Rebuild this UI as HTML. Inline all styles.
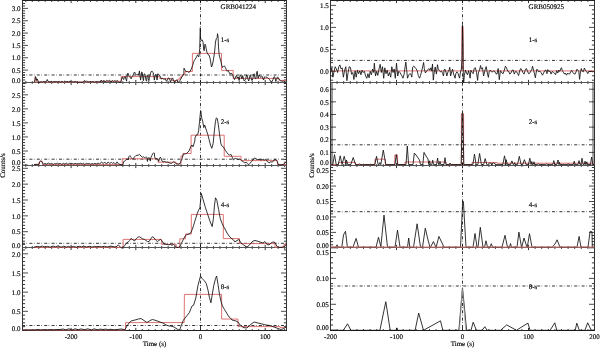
<!DOCTYPE html>
<html><head><meta charset="utf-8"><style>html,body{margin:0;padding:0;background:#fff;overflow:hidden}svg{display:block;will-change:transform;filter:blur(0.25px)}</style></head>
<body><svg width="600" height="348" viewBox="0 0 600 348" font-family="Liberation Serif, serif" fill="#000" text-rendering="geometricPrecision" stroke-width="0">
<rect width="600" height="348" fill="#fff"/>
<line x1="332.0" y1="82.5" x2="332.0" y2="165" stroke="#999" stroke-width="2.0"/>
<line x1="593.0" y1="82.5" x2="593.0" y2="165" stroke="#a0a0a0" stroke-width="1.9"/>
<path d="M22.5 82.44h5.5M286.5 82.44h-5.5M22.5 70.10h5.5M286.5 70.10h-5.5M22.5 57.76h5.5M286.5 57.76h-5.5M22.5 45.42h5.5M286.5 45.42h-5.5M22.5 33.08h5.5M286.5 33.08h-5.5M22.5 20.74h5.5M286.5 20.74h-5.5M22.5 8.40h5.5M286.5 8.40h-5.5M22.5 165.05h5.5M286.5 165.05h-5.5M22.5 151.00h5.5M286.5 151.00h-5.5M22.5 136.95h5.5M286.5 136.95h-5.5M22.5 122.90h5.5M286.5 122.90h-5.5M22.5 108.85h5.5M286.5 108.85h-5.5M22.5 94.80h5.5M286.5 94.80h-5.5M22.5 247.55h5.5M286.5 247.55h-5.5M22.5 231.70h5.5M286.5 231.70h-5.5M22.5 215.85h5.5M286.5 215.85h-5.5M22.5 200.00h5.5M286.5 200.00h-5.5M22.5 184.15h5.5M286.5 184.15h-5.5M22.5 168.30h5.5M286.5 168.30h-5.5M22.5 330.50h5.5M286.5 330.50h-5.5M22.5 311.32h5.5M286.5 311.32h-5.5M22.5 292.15h5.5M286.5 292.15h-5.5M22.5 272.98h5.5M286.5 272.98h-5.5M22.5 253.80h5.5M286.5 253.80h-5.5" stroke="#000" stroke-width="0.7" fill="none"/>
<path d="M22.5 79.97h2.6M286.5 79.97h-2.6M22.5 77.50h2.6M286.5 77.50h-2.6M22.5 75.04h2.6M286.5 75.04h-2.6M22.5 72.57h2.6M286.5 72.57h-2.6M22.5 67.63h2.6M286.5 67.63h-2.6M22.5 65.16h2.6M286.5 65.16h-2.6M22.5 62.70h2.6M286.5 62.70h-2.6M22.5 60.23h2.6M286.5 60.23h-2.6M22.5 55.29h2.6M286.5 55.29h-2.6M22.5 52.82h2.6M286.5 52.82h-2.6M22.5 50.36h2.6M286.5 50.36h-2.6M22.5 47.89h2.6M286.5 47.89h-2.6M22.5 42.95h2.6M286.5 42.95h-2.6M22.5 40.48h2.6M286.5 40.48h-2.6M22.5 38.02h2.6M286.5 38.02h-2.6M22.5 35.55h2.6M286.5 35.55h-2.6M22.5 30.61h2.6M286.5 30.61h-2.6M22.5 28.14h2.6M286.5 28.14h-2.6M22.5 25.68h2.6M286.5 25.68h-2.6M22.5 23.21h2.6M286.5 23.21h-2.6M22.5 18.27h2.6M286.5 18.27h-2.6M22.5 15.80h2.6M286.5 15.80h-2.6M22.5 13.34h2.6M286.5 13.34h-2.6M22.5 10.87h2.6M286.5 10.87h-2.6M22.5 5.93h2.6M286.5 5.93h-2.6M22.5 3.46h2.6M286.5 3.46h-2.6M22.5 162.24h2.6M286.5 162.24h-2.6M22.5 159.43h2.6M286.5 159.43h-2.6M22.5 156.62h2.6M286.5 156.62h-2.6M22.5 153.81h2.6M286.5 153.81h-2.6M22.5 148.19h2.6M286.5 148.19h-2.6M22.5 145.38h2.6M286.5 145.38h-2.6M22.5 142.57h2.6M286.5 142.57h-2.6M22.5 139.76h2.6M286.5 139.76h-2.6M22.5 134.14h2.6M286.5 134.14h-2.6M22.5 131.33h2.6M286.5 131.33h-2.6M22.5 128.52h2.6M286.5 128.52h-2.6M22.5 125.71h2.6M286.5 125.71h-2.6M22.5 120.09h2.6M286.5 120.09h-2.6M22.5 117.28h2.6M286.5 117.28h-2.6M22.5 114.47h2.6M286.5 114.47h-2.6M22.5 111.66h2.6M286.5 111.66h-2.6M22.5 106.04h2.6M286.5 106.04h-2.6M22.5 103.23h2.6M286.5 103.23h-2.6M22.5 100.42h2.6M286.5 100.42h-2.6M22.5 97.61h2.6M286.5 97.61h-2.6M22.5 91.99h2.6M286.5 91.99h-2.6M22.5 89.18h2.6M286.5 89.18h-2.6M22.5 86.37h2.6M286.5 86.37h-2.6M22.5 83.56h2.6M286.5 83.56h-2.6M22.5 244.38h2.6M286.5 244.38h-2.6M22.5 241.21h2.6M286.5 241.21h-2.6M22.5 238.04h2.6M286.5 238.04h-2.6M22.5 234.87h2.6M286.5 234.87h-2.6M22.5 228.53h2.6M286.5 228.53h-2.6M22.5 225.36h2.6M286.5 225.36h-2.6M22.5 222.19h2.6M286.5 222.19h-2.6M22.5 219.02h2.6M286.5 219.02h-2.6M22.5 212.68h2.6M286.5 212.68h-2.6M22.5 209.51h2.6M286.5 209.51h-2.6M22.5 206.34h2.6M286.5 206.34h-2.6M22.5 203.17h2.6M286.5 203.17h-2.6M22.5 196.83h2.6M286.5 196.83h-2.6M22.5 193.66h2.6M286.5 193.66h-2.6M22.5 190.49h2.6M286.5 190.49h-2.6M22.5 187.32h2.6M286.5 187.32h-2.6M22.5 180.98h2.6M286.5 180.98h-2.6M22.5 177.81h2.6M286.5 177.81h-2.6M22.5 174.64h2.6M286.5 174.64h-2.6M22.5 171.47h2.6M286.5 171.47h-2.6M22.5 326.67h2.6M286.5 326.67h-2.6M22.5 322.83h2.6M286.5 322.83h-2.6M22.5 319.00h2.6M286.5 319.00h-2.6M22.5 315.16h2.6M286.5 315.16h-2.6M22.5 307.49h2.6M286.5 307.49h-2.6M22.5 303.65h2.6M286.5 303.65h-2.6M22.5 299.82h2.6M286.5 299.82h-2.6M22.5 295.99h2.6M286.5 295.99h-2.6M22.5 288.31h2.6M286.5 288.31h-2.6M22.5 284.48h2.6M286.5 284.48h-2.6M22.5 280.64h2.6M286.5 280.64h-2.6M22.5 276.81h2.6M286.5 276.81h-2.6M22.5 269.14h2.6M286.5 269.14h-2.6M22.5 265.31h2.6M286.5 265.31h-2.6M22.5 261.47h2.6M286.5 261.47h-2.6M22.5 257.63h2.6M286.5 257.63h-2.6M22.5 249.96h2.6M286.5 249.96h-2.6" stroke="#000" stroke-width="0.8" fill="none"/>
<path d="M25.81 82.5v-1.4M25.81 0.5v1.4M32.28 82.5v-1.4M32.28 0.5v1.4M38.75 82.5v-1.4M38.75 0.5v1.4M45.22 82.5v-1.4M45.22 0.5v1.4M51.69 82.5v-1.4M51.69 0.5v1.4M58.16 82.5v-1.4M58.16 0.5v1.4M64.63 82.5v-1.4M64.63 0.5v1.4M71.10 82.5v-2.6M71.10 0.5v2.6M77.57 82.5v-1.4M77.57 0.5v1.4M84.04 82.5v-1.4M84.04 0.5v1.4M90.51 82.5v-1.4M90.51 0.5v1.4M96.98 82.5v-1.4M96.98 0.5v1.4M103.45 82.5v-1.4M103.45 0.5v1.4M109.92 82.5v-1.4M109.92 0.5v1.4M116.39 82.5v-1.4M116.39 0.5v1.4M122.86 82.5v-1.4M122.86 0.5v1.4M129.33 82.5v-1.4M129.33 0.5v1.4M135.80 82.5v-2.6M135.80 0.5v2.6M142.27 82.5v-1.4M142.27 0.5v1.4M148.74 82.5v-1.4M148.74 0.5v1.4M155.21 82.5v-1.4M155.21 0.5v1.4M161.68 82.5v-1.4M161.68 0.5v1.4M168.15 82.5v-1.4M168.15 0.5v1.4M174.62 82.5v-1.4M174.62 0.5v1.4M181.09 82.5v-1.4M181.09 0.5v1.4M187.56 82.5v-1.4M187.56 0.5v1.4M194.03 82.5v-1.4M194.03 0.5v1.4M200.50 82.5v-2.6M200.50 0.5v2.6M206.97 82.5v-1.4M206.97 0.5v1.4M213.44 82.5v-1.4M213.44 0.5v1.4M219.91 82.5v-1.4M219.91 0.5v1.4M226.38 82.5v-1.4M226.38 0.5v1.4M232.85 82.5v-1.4M232.85 0.5v1.4M239.32 82.5v-1.4M239.32 0.5v1.4M245.79 82.5v-1.4M245.79 0.5v1.4M252.26 82.5v-1.4M252.26 0.5v1.4M258.73 82.5v-1.4M258.73 0.5v1.4M265.20 82.5v-2.6M265.20 0.5v2.6M271.67 82.5v-1.4M271.67 0.5v1.4M278.14 82.5v-1.4M278.14 0.5v1.4M284.61 82.5v-1.4M284.61 0.5v1.4M25.81 165.5v-1.4M25.81 82.5v1.4M32.28 165.5v-1.4M32.28 82.5v1.4M38.75 165.5v-1.4M38.75 82.5v1.4M45.22 165.5v-1.4M45.22 82.5v1.4M51.69 165.5v-1.4M51.69 82.5v1.4M58.16 165.5v-1.4M58.16 82.5v1.4M64.63 165.5v-1.4M64.63 82.5v1.4M71.10 165.5v-2.6M71.10 82.5v2.6M77.57 165.5v-1.4M77.57 82.5v1.4M84.04 165.5v-1.4M84.04 82.5v1.4M90.51 165.5v-1.4M90.51 82.5v1.4M96.98 165.5v-1.4M96.98 82.5v1.4M103.45 165.5v-1.4M103.45 82.5v1.4M109.92 165.5v-1.4M109.92 82.5v1.4M116.39 165.5v-1.4M116.39 82.5v1.4M122.86 165.5v-1.4M122.86 82.5v1.4M129.33 165.5v-1.4M129.33 82.5v1.4M135.80 165.5v-2.6M135.80 82.5v2.6M142.27 165.5v-1.4M142.27 82.5v1.4M148.74 165.5v-1.4M148.74 82.5v1.4M155.21 165.5v-1.4M155.21 82.5v1.4M161.68 165.5v-1.4M161.68 82.5v1.4M168.15 165.5v-1.4M168.15 82.5v1.4M174.62 165.5v-1.4M174.62 82.5v1.4M181.09 165.5v-1.4M181.09 82.5v1.4M187.56 165.5v-1.4M187.56 82.5v1.4M194.03 165.5v-1.4M194.03 82.5v1.4M200.50 165.5v-2.6M200.50 82.5v2.6M206.97 165.5v-1.4M206.97 82.5v1.4M213.44 165.5v-1.4M213.44 82.5v1.4M219.91 165.5v-1.4M219.91 82.5v1.4M226.38 165.5v-1.4M226.38 82.5v1.4M232.85 165.5v-1.4M232.85 82.5v1.4M239.32 165.5v-1.4M239.32 82.5v1.4M245.79 165.5v-1.4M245.79 82.5v1.4M252.26 165.5v-1.4M252.26 82.5v1.4M258.73 165.5v-1.4M258.73 82.5v1.4M265.20 165.5v-2.6M265.20 82.5v2.6M271.67 165.5v-1.4M271.67 82.5v1.4M278.14 165.5v-1.4M278.14 82.5v1.4M284.61 165.5v-1.4M284.61 82.5v1.4M25.81 247.5v-1.4M25.81 165.5v1.4M32.28 247.5v-1.4M32.28 165.5v1.4M38.75 247.5v-1.4M38.75 165.5v1.4M45.22 247.5v-1.4M45.22 165.5v1.4M51.69 247.5v-1.4M51.69 165.5v1.4M58.16 247.5v-1.4M58.16 165.5v1.4M64.63 247.5v-1.4M64.63 165.5v1.4M71.10 247.5v-2.6M71.10 165.5v2.6M77.57 247.5v-1.4M77.57 165.5v1.4M84.04 247.5v-1.4M84.04 165.5v1.4M90.51 247.5v-1.4M90.51 165.5v1.4M96.98 247.5v-1.4M96.98 165.5v1.4M103.45 247.5v-1.4M103.45 165.5v1.4M109.92 247.5v-1.4M109.92 165.5v1.4M116.39 247.5v-1.4M116.39 165.5v1.4M122.86 247.5v-1.4M122.86 165.5v1.4M129.33 247.5v-1.4M129.33 165.5v1.4M135.80 247.5v-2.6M135.80 165.5v2.6M142.27 247.5v-1.4M142.27 165.5v1.4M148.74 247.5v-1.4M148.74 165.5v1.4M155.21 247.5v-1.4M155.21 165.5v1.4M161.68 247.5v-1.4M161.68 165.5v1.4M168.15 247.5v-1.4M168.15 165.5v1.4M174.62 247.5v-1.4M174.62 165.5v1.4M181.09 247.5v-1.4M181.09 165.5v1.4M187.56 247.5v-1.4M187.56 165.5v1.4M194.03 247.5v-1.4M194.03 165.5v1.4M200.50 247.5v-2.6M200.50 165.5v2.6M206.97 247.5v-1.4M206.97 165.5v1.4M213.44 247.5v-1.4M213.44 165.5v1.4M219.91 247.5v-1.4M219.91 165.5v1.4M226.38 247.5v-1.4M226.38 165.5v1.4M232.85 247.5v-1.4M232.85 165.5v1.4M239.32 247.5v-1.4M239.32 165.5v1.4M245.79 247.5v-1.4M245.79 165.5v1.4M252.26 247.5v-1.4M252.26 165.5v1.4M258.73 247.5v-1.4M258.73 165.5v1.4M265.20 247.5v-2.6M265.20 165.5v2.6M271.67 247.5v-1.4M271.67 165.5v1.4M278.14 247.5v-1.4M278.14 165.5v1.4M284.61 247.5v-1.4M284.61 165.5v1.4M25.81 330.5v-1.4M25.81 247.5v1.4M32.28 330.5v-1.4M32.28 247.5v1.4M38.75 330.5v-1.4M38.75 247.5v1.4M45.22 330.5v-1.4M45.22 247.5v1.4M51.69 330.5v-1.4M51.69 247.5v1.4M58.16 330.5v-1.4M58.16 247.5v1.4M64.63 330.5v-1.4M64.63 247.5v1.4M71.10 330.5v-2.6M71.10 247.5v2.6M77.57 330.5v-1.4M77.57 247.5v1.4M84.04 330.5v-1.4M84.04 247.5v1.4M90.51 330.5v-1.4M90.51 247.5v1.4M96.98 330.5v-1.4M96.98 247.5v1.4M103.45 330.5v-1.4M103.45 247.5v1.4M109.92 330.5v-1.4M109.92 247.5v1.4M116.39 330.5v-1.4M116.39 247.5v1.4M122.86 330.5v-1.4M122.86 247.5v1.4M129.33 330.5v-1.4M129.33 247.5v1.4M135.80 330.5v-2.6M135.80 247.5v2.6M142.27 330.5v-1.4M142.27 247.5v1.4M148.74 330.5v-1.4M148.74 247.5v1.4M155.21 330.5v-1.4M155.21 247.5v1.4M161.68 330.5v-1.4M161.68 247.5v1.4M168.15 330.5v-1.4M168.15 247.5v1.4M174.62 330.5v-1.4M174.62 247.5v1.4M181.09 330.5v-1.4M181.09 247.5v1.4M187.56 330.5v-1.4M187.56 247.5v1.4M194.03 330.5v-1.4M194.03 247.5v1.4M200.50 330.5v-2.6M200.50 247.5v2.6M206.97 330.5v-1.4M206.97 247.5v1.4M213.44 330.5v-1.4M213.44 247.5v1.4M219.91 330.5v-1.4M219.91 247.5v1.4M226.38 330.5v-1.4M226.38 247.5v1.4M232.85 330.5v-1.4M232.85 247.5v1.4M239.32 330.5v-1.4M239.32 247.5v1.4M245.79 330.5v-1.4M245.79 247.5v1.4M252.26 330.5v-1.4M252.26 247.5v1.4M258.73 330.5v-1.4M258.73 247.5v1.4M265.20 330.5v-2.6M265.20 247.5v2.6M271.67 330.5v-1.4M271.67 247.5v1.4M278.14 330.5v-1.4M278.14 247.5v1.4M284.61 330.5v-1.4M284.61 247.5v1.4" stroke="#000" stroke-width="0.8" fill="none"/>
<line x1="22.50" y1="75.00" x2="286.50" y2="75.00" stroke="#000" stroke-width="0.8" stroke-dasharray="3,1.5,0.6,2.3" stroke-dashoffset="0.5"/>
<text x="20.60" y="82.64" text-anchor="end" font-size="7.0" stroke="#000" stroke-width="0.15" >0.0</text>
<text x="20.60" y="72.80" text-anchor="end" font-size="7.0" stroke="#000" stroke-width="0.15" >0.5</text>
<text x="20.60" y="60.46" text-anchor="end" font-size="7.0" stroke="#000" stroke-width="0.15" >1.0</text>
<text x="20.60" y="48.12" text-anchor="end" font-size="7.0" stroke="#000" stroke-width="0.15" >1.5</text>
<text x="20.60" y="35.78" text-anchor="end" font-size="7.0" stroke="#000" stroke-width="0.15" >2.0</text>
<text x="20.60" y="23.44" text-anchor="end" font-size="7.0" stroke="#000" stroke-width="0.15" >2.5</text>
<text x="20.60" y="11.10" text-anchor="end" font-size="7.0" stroke="#000" stroke-width="0.15" >3.0</text>
<text x="220.70" y="41.90" text-anchor="start" font-size="7.0" stroke="#000" stroke-width="0.15" >1-s</text>
<line x1="22.50" y1="159.20" x2="286.50" y2="159.20" stroke="#000" stroke-width="0.8" stroke-dasharray="3,1.5,0.6,2.3" stroke-dashoffset="0.5"/>
<text x="20.60" y="165.25" text-anchor="end" font-size="7.0" stroke="#000" stroke-width="0.15" >0.0</text>
<text x="20.60" y="153.70" text-anchor="end" font-size="7.0" stroke="#000" stroke-width="0.15" >0.5</text>
<text x="20.60" y="139.65" text-anchor="end" font-size="7.0" stroke="#000" stroke-width="0.15" >1.0</text>
<text x="20.60" y="125.60" text-anchor="end" font-size="7.0" stroke="#000" stroke-width="0.15" >1.5</text>
<text x="20.60" y="111.55" text-anchor="end" font-size="7.0" stroke="#000" stroke-width="0.15" >2.0</text>
<text x="20.60" y="97.50" text-anchor="end" font-size="7.0" stroke="#000" stroke-width="0.15" >2.5</text>
<text x="220.70" y="124.10" text-anchor="start" font-size="7.0" stroke="#000" stroke-width="0.15" >2-s</text>
<line x1="22.50" y1="243.30" x2="286.50" y2="243.30" stroke="#000" stroke-width="0.8" stroke-dasharray="3,1.5,0.6,2.3" stroke-dashoffset="0.5"/>
<text x="20.60" y="247.75" text-anchor="end" font-size="7.0" stroke="#000" stroke-width="0.15" >0.0</text>
<text x="20.60" y="234.40" text-anchor="end" font-size="7.0" stroke="#000" stroke-width="0.15" >0.5</text>
<text x="20.60" y="218.55" text-anchor="end" font-size="7.0" stroke="#000" stroke-width="0.15" >1.0</text>
<text x="20.60" y="202.70" text-anchor="end" font-size="7.0" stroke="#000" stroke-width="0.15" >1.5</text>
<text x="20.60" y="186.85" text-anchor="end" font-size="7.0" stroke="#000" stroke-width="0.15" >2.0</text>
<text x="20.60" y="171.00" text-anchor="end" font-size="7.0" stroke="#000" stroke-width="0.15" >2.5</text>
<text x="220.70" y="207.20" text-anchor="start" font-size="7.0" stroke="#000" stroke-width="0.15" >4-s</text>
<line x1="22.50" y1="325.50" x2="286.50" y2="325.50" stroke="#000" stroke-width="0.8" stroke-dasharray="3,1.5,0.6,2.3" stroke-dashoffset="0.5"/>
<text x="20.60" y="330.70" text-anchor="end" font-size="7.0" stroke="#000" stroke-width="0.15" >0.0</text>
<text x="20.60" y="314.02" text-anchor="end" font-size="7.0" stroke="#000" stroke-width="0.15" >0.5</text>
<text x="20.60" y="294.85" text-anchor="end" font-size="7.0" stroke="#000" stroke-width="0.15" >1.0</text>
<text x="20.60" y="275.68" text-anchor="end" font-size="7.0" stroke="#000" stroke-width="0.15" >1.5</text>
<text x="20.60" y="256.50" text-anchor="end" font-size="7.0" stroke="#000" stroke-width="0.15" >2.0</text>
<text x="220.70" y="289.40" text-anchor="start" font-size="7.0" stroke="#000" stroke-width="0.15" >8-s</text>
<line x1="200.50" y1="0.00" x2="200.50" y2="330.40" stroke="#000" stroke-width="0.8" stroke-dasharray="3,1.5,0.6,2.3" stroke-dashoffset="0.5"/>
<path d="M22.5 0.5V330.5M286.5 0.5V330.5" stroke="#333" stroke-width="1" fill="none"/>
<path d="M22.0 0.5H287.0M22.0 330.5H287.0" stroke="#222" stroke-width="1" fill="none"/>
<path d="M22.5 82.5H286.5M22.5 165.5H286.5M22.5 247.5H286.5" stroke="#555" stroke-width="1" fill="none"/>
<text x="71.10" y="338.80" text-anchor="middle" font-size="7.0" stroke="#000" stroke-width="0.15" >-200</text>
<text x="135.80" y="338.80" text-anchor="middle" font-size="7.0" stroke="#000" stroke-width="0.15" >-100</text>
<text x="200.50" y="338.80" text-anchor="middle" font-size="7.0" stroke="#000" stroke-width="0.15" >0</text>
<text x="265.20" y="338.80" text-anchor="middle" font-size="7.0" stroke="#000" stroke-width="0.15" >100</text>
<text x="154.50" y="346.00" text-anchor="middle" font-size="7.0" stroke="#000" stroke-width="0.15" >Time (s)</text>
<text x="220.60" y="8.70" text-anchor="start" font-size="7.0" stroke="#000" stroke-width="0.15" >GRB041224</text>
<text transform="translate(5.20,165.6) rotate(-90)" text-anchor="middle" font-size="7.0" stroke="#000" stroke-width="0.15">Counts/s</text>
<path d="M330.5 71.40h5.5M594.5 71.40h-5.5M330.5 49.40h5.5M594.5 49.40h-5.5M330.5 27.40h5.5M594.5 27.40h-5.5M330.5 5.40h5.5M594.5 5.40h-5.5M330.5 165.04h5.5M594.5 165.04h-5.5M330.5 152.40h5.5M594.5 152.40h-5.5M330.5 139.76h5.5M594.5 139.76h-5.5M330.5 127.12h5.5M594.5 127.12h-5.5M330.5 114.48h5.5M594.5 114.48h-5.5M330.5 101.84h5.5M594.5 101.84h-5.5M330.5 89.20h5.5M594.5 89.20h-5.5M330.5 247.85h5.5M594.5 247.85h-5.5M330.5 232.40h5.5M594.5 232.40h-5.5M330.5 216.95h5.5M594.5 216.95h-5.5M330.5 201.50h5.5M594.5 201.50h-5.5M330.5 186.05h5.5M594.5 186.05h-5.5M330.5 170.60h5.5M594.5 170.60h-5.5M330.5 330.20h5.5M594.5 330.20h-5.5M330.5 304.30h5.5M594.5 304.30h-5.5M330.5 278.40h5.5M594.5 278.40h-5.5M330.5 252.50h5.5M594.5 252.50h-5.5" stroke="#000" stroke-width="0.7" fill="none"/>
<path d="M330.5 80.20h2.6M594.5 80.20h-2.6M330.5 75.80h2.6M594.5 75.80h-2.6M330.5 67.00h2.6M594.5 67.00h-2.6M330.5 62.60h2.6M594.5 62.60h-2.6M330.5 58.20h2.6M594.5 58.20h-2.6M330.5 53.80h2.6M594.5 53.80h-2.6M330.5 45.00h2.6M594.5 45.00h-2.6M330.5 40.60h2.6M594.5 40.60h-2.6M330.5 36.20h2.6M594.5 36.20h-2.6M330.5 31.80h2.6M594.5 31.80h-2.6M330.5 23.00h2.6M594.5 23.00h-2.6M330.5 18.60h2.6M594.5 18.60h-2.6M330.5 14.20h2.6M594.5 14.20h-2.6M330.5 9.80h2.6M594.5 9.80h-2.6M330.5 244.76h2.6M594.5 244.76h-2.6M330.5 241.67h2.6M594.5 241.67h-2.6M330.5 238.58h2.6M594.5 238.58h-2.6M330.5 235.49h2.6M594.5 235.49h-2.6M330.5 229.31h2.6M594.5 229.31h-2.6M330.5 226.22h2.6M594.5 226.22h-2.6M330.5 223.13h2.6M594.5 223.13h-2.6M330.5 220.04h2.6M594.5 220.04h-2.6M330.5 213.86h2.6M594.5 213.86h-2.6M330.5 210.77h2.6M594.5 210.77h-2.6M330.5 207.68h2.6M594.5 207.68h-2.6M330.5 204.59h2.6M594.5 204.59h-2.6M330.5 198.41h2.6M594.5 198.41h-2.6M330.5 195.32h2.6M594.5 195.32h-2.6M330.5 192.23h2.6M594.5 192.23h-2.6M330.5 189.14h2.6M594.5 189.14h-2.6M330.5 182.96h2.6M594.5 182.96h-2.6M330.5 179.87h2.6M594.5 179.87h-2.6M330.5 176.78h2.6M594.5 176.78h-2.6M330.5 173.69h2.6M594.5 173.69h-2.6M330.5 167.51h2.6M594.5 167.51h-2.6M330.5 325.02h2.6M594.5 325.02h-2.6M330.5 319.84h2.6M594.5 319.84h-2.6M330.5 314.66h2.6M594.5 314.66h-2.6M330.5 309.48h2.6M594.5 309.48h-2.6M330.5 299.12h2.6M594.5 299.12h-2.6M330.5 293.94h2.6M594.5 293.94h-2.6M330.5 288.76h2.6M594.5 288.76h-2.6M330.5 283.58h2.6M594.5 283.58h-2.6M330.5 273.22h2.6M594.5 273.22h-2.6M330.5 268.04h2.6M594.5 268.04h-2.6M330.5 262.86h2.6M594.5 262.86h-2.6M330.5 257.68h2.6M594.5 257.68h-2.6" stroke="#000" stroke-width="0.8" fill="none"/>
<path d="M330.50 82.5v-2.6M330.50 0.5v2.6M337.10 82.5v-1.4M337.10 0.5v1.4M343.70 82.5v-1.4M343.70 0.5v1.4M350.30 82.5v-1.4M350.30 0.5v1.4M356.90 82.5v-1.4M356.90 0.5v1.4M363.50 82.5v-1.4M363.50 0.5v1.4M370.10 82.5v-1.4M370.10 0.5v1.4M376.70 82.5v-1.4M376.70 0.5v1.4M383.30 82.5v-1.4M383.30 0.5v1.4M389.90 82.5v-1.4M389.90 0.5v1.4M396.50 82.5v-2.6M396.50 0.5v2.6M403.10 82.5v-1.4M403.10 0.5v1.4M409.70 82.5v-1.4M409.70 0.5v1.4M416.30 82.5v-1.4M416.30 0.5v1.4M422.90 82.5v-1.4M422.90 0.5v1.4M429.50 82.5v-1.4M429.50 0.5v1.4M436.10 82.5v-1.4M436.10 0.5v1.4M442.70 82.5v-1.4M442.70 0.5v1.4M449.30 82.5v-1.4M449.30 0.5v1.4M455.90 82.5v-1.4M455.90 0.5v1.4M462.50 82.5v-2.6M462.50 0.5v2.6M469.10 82.5v-1.4M469.10 0.5v1.4M475.70 82.5v-1.4M475.70 0.5v1.4M482.30 82.5v-1.4M482.30 0.5v1.4M488.90 82.5v-1.4M488.90 0.5v1.4M495.50 82.5v-1.4M495.50 0.5v1.4M502.10 82.5v-1.4M502.10 0.5v1.4M508.70 82.5v-1.4M508.70 0.5v1.4M515.30 82.5v-1.4M515.30 0.5v1.4M521.90 82.5v-1.4M521.90 0.5v1.4M528.50 82.5v-2.6M528.50 0.5v2.6M535.10 82.5v-1.4M535.10 0.5v1.4M541.70 82.5v-1.4M541.70 0.5v1.4M548.30 82.5v-1.4M548.30 0.5v1.4M554.90 82.5v-1.4M554.90 0.5v1.4M561.50 82.5v-1.4M561.50 0.5v1.4M568.10 82.5v-1.4M568.10 0.5v1.4M574.70 82.5v-1.4M574.70 0.5v1.4M581.30 82.5v-1.4M581.30 0.5v1.4M587.90 82.5v-1.4M587.90 0.5v1.4M594.50 82.5v-2.6M594.50 0.5v2.6M330.50 165.5v-2.6M330.50 82.5v2.6M337.10 165.5v-1.4M337.10 82.5v1.4M343.70 165.5v-1.4M343.70 82.5v1.4M350.30 165.5v-1.4M350.30 82.5v1.4M356.90 165.5v-1.4M356.90 82.5v1.4M363.50 165.5v-1.4M363.50 82.5v1.4M370.10 165.5v-1.4M370.10 82.5v1.4M376.70 165.5v-1.4M376.70 82.5v1.4M383.30 165.5v-1.4M383.30 82.5v1.4M389.90 165.5v-1.4M389.90 82.5v1.4M396.50 165.5v-2.6M396.50 82.5v2.6M403.10 165.5v-1.4M403.10 82.5v1.4M409.70 165.5v-1.4M409.70 82.5v1.4M416.30 165.5v-1.4M416.30 82.5v1.4M422.90 165.5v-1.4M422.90 82.5v1.4M429.50 165.5v-1.4M429.50 82.5v1.4M436.10 165.5v-1.4M436.10 82.5v1.4M442.70 165.5v-1.4M442.70 82.5v1.4M449.30 165.5v-1.4M449.30 82.5v1.4M455.90 165.5v-1.4M455.90 82.5v1.4M462.50 165.5v-2.6M462.50 82.5v2.6M469.10 165.5v-1.4M469.10 82.5v1.4M475.70 165.5v-1.4M475.70 82.5v1.4M482.30 165.5v-1.4M482.30 82.5v1.4M488.90 165.5v-1.4M488.90 82.5v1.4M495.50 165.5v-1.4M495.50 82.5v1.4M502.10 165.5v-1.4M502.10 82.5v1.4M508.70 165.5v-1.4M508.70 82.5v1.4M515.30 165.5v-1.4M515.30 82.5v1.4M521.90 165.5v-1.4M521.90 82.5v1.4M528.50 165.5v-2.6M528.50 82.5v2.6M535.10 165.5v-1.4M535.10 82.5v1.4M541.70 165.5v-1.4M541.70 82.5v1.4M548.30 165.5v-1.4M548.30 82.5v1.4M554.90 165.5v-1.4M554.90 82.5v1.4M561.50 165.5v-1.4M561.50 82.5v1.4M568.10 165.5v-1.4M568.10 82.5v1.4M574.70 165.5v-1.4M574.70 82.5v1.4M581.30 165.5v-1.4M581.30 82.5v1.4M587.90 165.5v-1.4M587.90 82.5v1.4M594.50 165.5v-2.6M594.50 82.5v2.6M330.50 247.5v-2.6M330.50 165.5v2.6M337.10 247.5v-1.4M337.10 165.5v1.4M343.70 247.5v-1.4M343.70 165.5v1.4M350.30 247.5v-1.4M350.30 165.5v1.4M356.90 247.5v-1.4M356.90 165.5v1.4M363.50 247.5v-1.4M363.50 165.5v1.4M370.10 247.5v-1.4M370.10 165.5v1.4M376.70 247.5v-1.4M376.70 165.5v1.4M383.30 247.5v-1.4M383.30 165.5v1.4M389.90 247.5v-1.4M389.90 165.5v1.4M396.50 247.5v-2.6M396.50 165.5v2.6M403.10 247.5v-1.4M403.10 165.5v1.4M409.70 247.5v-1.4M409.70 165.5v1.4M416.30 247.5v-1.4M416.30 165.5v1.4M422.90 247.5v-1.4M422.90 165.5v1.4M429.50 247.5v-1.4M429.50 165.5v1.4M436.10 247.5v-1.4M436.10 165.5v1.4M442.70 247.5v-1.4M442.70 165.5v1.4M449.30 247.5v-1.4M449.30 165.5v1.4M455.90 247.5v-1.4M455.90 165.5v1.4M462.50 247.5v-2.6M462.50 165.5v2.6M469.10 247.5v-1.4M469.10 165.5v1.4M475.70 247.5v-1.4M475.70 165.5v1.4M482.30 247.5v-1.4M482.30 165.5v1.4M488.90 247.5v-1.4M488.90 165.5v1.4M495.50 247.5v-1.4M495.50 165.5v1.4M502.10 247.5v-1.4M502.10 165.5v1.4M508.70 247.5v-1.4M508.70 165.5v1.4M515.30 247.5v-1.4M515.30 165.5v1.4M521.90 247.5v-1.4M521.90 165.5v1.4M528.50 247.5v-2.6M528.50 165.5v2.6M535.10 247.5v-1.4M535.10 165.5v1.4M541.70 247.5v-1.4M541.70 165.5v1.4M548.30 247.5v-1.4M548.30 165.5v1.4M554.90 247.5v-1.4M554.90 165.5v1.4M561.50 247.5v-1.4M561.50 165.5v1.4M568.10 247.5v-1.4M568.10 165.5v1.4M574.70 247.5v-1.4M574.70 165.5v1.4M581.30 247.5v-1.4M581.30 165.5v1.4M587.90 247.5v-1.4M587.90 165.5v1.4M594.50 247.5v-2.6M594.50 165.5v2.6M330.50 330.5v-2.6M330.50 247.5v2.6M337.10 330.5v-1.4M337.10 247.5v1.4M343.70 330.5v-1.4M343.70 247.5v1.4M350.30 330.5v-1.4M350.30 247.5v1.4M356.90 330.5v-1.4M356.90 247.5v1.4M363.50 330.5v-1.4M363.50 247.5v1.4M370.10 330.5v-1.4M370.10 247.5v1.4M376.70 330.5v-1.4M376.70 247.5v1.4M383.30 330.5v-1.4M383.30 247.5v1.4M389.90 330.5v-1.4M389.90 247.5v1.4M396.50 330.5v-2.6M396.50 247.5v2.6M403.10 330.5v-1.4M403.10 247.5v1.4M409.70 330.5v-1.4M409.70 247.5v1.4M416.30 330.5v-1.4M416.30 247.5v1.4M422.90 330.5v-1.4M422.90 247.5v1.4M429.50 330.5v-1.4M429.50 247.5v1.4M436.10 330.5v-1.4M436.10 247.5v1.4M442.70 330.5v-1.4M442.70 247.5v1.4M449.30 330.5v-1.4M449.30 247.5v1.4M455.90 330.5v-1.4M455.90 247.5v1.4M462.50 330.5v-2.6M462.50 247.5v2.6M469.10 330.5v-1.4M469.10 247.5v1.4M475.70 330.5v-1.4M475.70 247.5v1.4M482.30 330.5v-1.4M482.30 247.5v1.4M488.90 330.5v-1.4M488.90 247.5v1.4M495.50 330.5v-1.4M495.50 247.5v1.4M502.10 330.5v-1.4M502.10 247.5v1.4M508.70 330.5v-1.4M508.70 247.5v1.4M515.30 330.5v-1.4M515.30 247.5v1.4M521.90 330.5v-1.4M521.90 247.5v1.4M528.50 330.5v-2.6M528.50 247.5v2.6M535.10 330.5v-1.4M535.10 247.5v1.4M541.70 330.5v-1.4M541.70 247.5v1.4M548.30 330.5v-1.4M548.30 247.5v1.4M554.90 330.5v-1.4M554.90 247.5v1.4M561.50 330.5v-1.4M561.50 247.5v1.4M568.10 330.5v-1.4M568.10 247.5v1.4M574.70 330.5v-1.4M574.70 247.5v1.4M581.30 330.5v-1.4M581.30 247.5v1.4M587.90 330.5v-1.4M587.90 247.5v1.4M594.50 330.5v-2.6M594.50 247.5v2.6" stroke="#000" stroke-width="0.8" fill="none"/>
<line x1="330.50" y1="60.40" x2="594.50" y2="60.40" stroke="#000" stroke-width="0.8" stroke-dasharray="3,1.5,0.6,2.3" stroke-dashoffset="0.5"/>
<text x="328.80" y="74.10" text-anchor="end" font-size="7.0" stroke="#000" stroke-width="0.15" >0.0</text>
<text x="328.80" y="52.10" text-anchor="end" font-size="7.0" stroke="#000" stroke-width="0.15" >0.5</text>
<text x="328.80" y="30.10" text-anchor="end" font-size="7.0" stroke="#000" stroke-width="0.15" >1.0</text>
<text x="328.80" y="8.10" text-anchor="end" font-size="7.0" stroke="#000" stroke-width="0.15" >1.5</text>
<text x="528.70" y="41.90" text-anchor="start" font-size="7.0" stroke="#000" stroke-width="0.15" >1-s</text>
<line x1="330.50" y1="144.80" x2="594.50" y2="144.80" stroke="#000" stroke-width="0.8" stroke-dasharray="3,1.5,0.6,2.3" stroke-dashoffset="0.5"/>
<text x="328.80" y="165.24" text-anchor="end" font-size="7.0" stroke="#000" stroke-width="0.15" >0.0</text>
<text x="328.80" y="155.10" text-anchor="end" font-size="7.0" stroke="#000" stroke-width="0.15" >0.1</text>
<text x="328.80" y="142.46" text-anchor="end" font-size="7.0" stroke="#000" stroke-width="0.15" >0.2</text>
<text x="328.80" y="129.82" text-anchor="end" font-size="7.0" stroke="#000" stroke-width="0.15" >0.3</text>
<text x="328.80" y="117.18" text-anchor="end" font-size="7.0" stroke="#000" stroke-width="0.15" >0.4</text>
<text x="328.80" y="104.54" text-anchor="end" font-size="7.0" stroke="#000" stroke-width="0.15" >0.5</text>
<text x="328.80" y="91.90" text-anchor="end" font-size="7.0" stroke="#000" stroke-width="0.15" >0.6</text>
<text x="528.70" y="124.40" text-anchor="start" font-size="7.0" stroke="#000" stroke-width="0.15" >2-s</text>
<line x1="330.50" y1="211.70" x2="594.50" y2="211.70" stroke="#000" stroke-width="0.8" stroke-dasharray="3,1.5,0.6,2.3" stroke-dashoffset="0.5"/>
<text x="328.80" y="248.05" text-anchor="end" font-size="7.0" stroke="#000" stroke-width="0.15" >0.00</text>
<text x="328.80" y="235.10" text-anchor="end" font-size="7.0" stroke="#000" stroke-width="0.15" >0.05</text>
<text x="328.80" y="219.65" text-anchor="end" font-size="7.0" stroke="#000" stroke-width="0.15" >0.10</text>
<text x="328.80" y="204.20" text-anchor="end" font-size="7.0" stroke="#000" stroke-width="0.15" >0.15</text>
<text x="328.80" y="188.75" text-anchor="end" font-size="7.0" stroke="#000" stroke-width="0.15" >0.20</text>
<text x="328.80" y="173.30" text-anchor="end" font-size="7.0" stroke="#000" stroke-width="0.15" >0.25</text>
<text x="528.70" y="207.20" text-anchor="start" font-size="7.0" stroke="#000" stroke-width="0.15" >4-s</text>
<line x1="330.50" y1="286.00" x2="594.50" y2="286.00" stroke="#000" stroke-width="0.8" stroke-dasharray="3,1.5,0.6,2.3" stroke-dashoffset="0.5"/>
<text x="328.80" y="330.40" text-anchor="end" font-size="7.0" stroke="#000" stroke-width="0.15" >0.00</text>
<text x="328.80" y="307.00" text-anchor="end" font-size="7.0" stroke="#000" stroke-width="0.15" >0.05</text>
<text x="328.80" y="281.10" text-anchor="end" font-size="7.0" stroke="#000" stroke-width="0.15" >0.10</text>
<text x="328.80" y="255.20" text-anchor="end" font-size="7.0" stroke="#000" stroke-width="0.15" >0.15</text>
<text x="528.70" y="289.40" text-anchor="start" font-size="7.0" stroke="#000" stroke-width="0.15" >8-s</text>
<line x1="462.50" y1="0.00" x2="462.50" y2="330.40" stroke="#000" stroke-width="0.8" stroke-dasharray="3,1.5,0.6,2.3" stroke-dashoffset="0.5"/>
<path d="M330.5 0.5V330.5M594.5 0.5V330.5" stroke="#333" stroke-width="1" fill="none"/>
<path d="M330.0 0.5H595.0M330.0 330.5H595.0" stroke="#222" stroke-width="1" fill="none"/>
<path d="M330.5 82.5H594.5M330.5 165.5H594.5M330.5 247.5H594.5" stroke="#555" stroke-width="1" fill="none"/>
<text x="330.50" y="338.80" text-anchor="middle" font-size="7.0" stroke="#000" stroke-width="0.15" >-200</text>
<text x="396.50" y="338.80" text-anchor="middle" font-size="7.0" stroke="#000" stroke-width="0.15" >-100</text>
<text x="462.50" y="338.80" text-anchor="middle" font-size="7.0" stroke="#000" stroke-width="0.15" >0</text>
<text x="528.50" y="338.80" text-anchor="middle" font-size="7.0" stroke="#000" stroke-width="0.15" >100</text>
<text x="594.50" y="338.80" text-anchor="middle" font-size="7.0" stroke="#000" stroke-width="0.15" >200</text>
<text x="462.50" y="346.00" text-anchor="middle" font-size="7.0" stroke="#000" stroke-width="0.15" >Time (s)</text>
<text x="528.60" y="8.70" text-anchor="start" font-size="7.0" stroke="#000" stroke-width="0.15" >GRB050925</text>
<text transform="translate(313.60,165.6) rotate(-90)" text-anchor="middle" font-size="7.0" stroke="#000" stroke-width="0.15">Counts/s</text>
<polyline points="34.0,82.0 34.8,82.0 35.1,77.5 35.8,77.5 36.1,82.0 100.0,82.0 100.0,81.3 121.2,81.3 121.2,76.6 159.8,76.6 159.8,78.6 172.0,78.6 172.0,80.5 178.0,80.5 178.0,79.0 180.0,79.0 180.0,77.0 182.0,77.0 182.0,74.5 185.0,74.5 185.0,71.5 192.4,71.5 192.4,53.4 221.5,53.4 221.5,70.4 233.2,70.4 233.2,78.4 279.0,78.4 279.0,80.4 286.2,80.4" fill="none" stroke="#dc6464" stroke-width="0.9" stroke-linejoin="round"/>
<polyline points="34.0,164.6 39.3,164.6 39.6,161.3 42.2,161.3 42.5,164.6 122.3,164.6 122.3,158.8 158.0,158.8 158.0,162.2 176.0,162.2 176.0,163.8 181.0,163.8 181.0,156.0 183.0,156.0 183.0,153.5 191.1,153.5 191.1,135.2 224.2,135.2 224.2,156.3 241.0,156.3 241.0,160.6 277.5,160.6 277.5,164.6 286.2,164.6" fill="none" stroke="#dc6464" stroke-width="0.9" stroke-linejoin="round"/>
<polyline points="34.0,247.4 123.1,247.4 123.1,239.4 161.6,239.4 161.6,244.3 176.2,244.3 176.2,247.2 179.8,247.2 179.8,238.8 185.5,238.8 185.5,234.0 191.3,234.0 191.3,214.4 223.3,214.4 223.3,238.6 239.5,238.6 239.5,243.6 275.0,243.6 275.0,247.2 284.0,247.2 284.0,244.5 286.2,244.5" fill="none" stroke="#dc6464" stroke-width="0.9" stroke-linejoin="round"/>
<polyline points="22.3,330.0 125.5,330.0 125.5,322.6 184.2,322.6 184.4,294.4 221.6,294.4 221.6,319.0 238.0,319.1 238.0,326.6 280.0,326.6 280.0,327.4 286.2,327.4" fill="none" stroke="#dc6464" stroke-width="0.9" stroke-linejoin="round"/>
<polyline points="330.6,70.9 461.9,70.9 461.9,26.5 463.1,26.5 463.1,70.9 594.4,70.9" fill="none" stroke="#dc6464" stroke-width="0.9" stroke-linejoin="round"/>
<polyline points="330.6,164.6 338.5,164.6 338.5,162.4 355.5,162.4 355.5,164.6 375.0,164.6 375.0,159.2 385.3,159.2 385.3,164.6 394.8,164.6 394.8,155.0 397.6,155.0 397.6,164.6 405.0,164.6 405.0,162.0 446.0,162.0 446.0,164.6 461.4,164.6 461.4,113.6 463.6,113.6 463.6,164.6 472.0,164.6 472.0,162.5 497.0,162.5 497.0,163.2 594.4,163.2" fill="none" stroke="#dc6464" stroke-width="0.9" stroke-linejoin="round"/>
<polyline points="34.2,82.0 35.0,80.0 35.4,76.5 36.0,78.0 36.8,80.5 37.2,79.0 37.8,80.0 38.2,82.5 39.0,82.8 40.0,82.0 41.5,81.8 42.5,82.0 43.5,81.5 45.0,82.0 46.5,81.5 47.2,79.5 47.8,81.0 49.0,81.8 50.0,82.0 51.2,81.3 52.4,82.1 53.7,81.6 55.1,81.8 56.5,81.5 57.6,82.0 59.2,81.5 60.5,82.1 62.1,81.3 63.4,82.3 64.6,81.2 65.9,81.9 67.1,81.4 68.6,81.9 70.1,81.3 71.4,82.1 72.6,81.6 73.8,82.1 75.2,81.4 76.6,82.0 77.5,82.3 83.0,82.3 84.0,81.0 84.7,80.5 85.5,81.8 86.5,80.8 87.5,82.0 88.0,82.1 89.6,81.6 91.2,82.0 92.9,81.5 94.3,82.2 95.5,81.6 97.2,81.9 98.7,81.7 100.0,82.1 101.3,80.0 102.5,82.0 103.9,80.3 105.2,82.1 106.7,80.4 108.1,81.4 109.5,80.2 111.0,82.1 112.2,80.5 113.6,81.4 114.9,80.7 116.0,81.4 117.4,80.7 118.0,81.2 119.1,82.4 120.6,82.4 121.4,80.1 122.0,77.8 122.6,76.9 123.2,78.9 123.7,79.5 124.3,77.2 125.2,76.4 126.0,79.5 126.6,81.2 127.2,75.5 127.8,73.2 128.3,73.8 128.9,75.5 129.8,76.6 130.6,78.1 131.2,78.9 131.8,77.2 132.7,75.5 133.5,74.3 134.1,72.6 134.7,72.0 135.2,73.8 135.8,74.1 136.7,74.9 137.5,74.6 138.4,73.8 138.9,75.5 139.4,70.9 140.0,75.5 140.6,80.1 141.2,75.5 141.7,72.0 142.3,72.6 142.9,78.4 143.5,80.7 144.0,74.3 144.6,73.8 145.2,75.5 146.0,80.1 146.6,81.2 147.2,75.5 147.8,74.9 148.3,78.4 148.9,80.7 149.5,77.2 150.4,73.8 151.2,71.5 152.1,71.2 152.7,72.3 153.2,72.6 153.8,75.5 154.4,80.1 155.0,75.2 156.0,74.5 157.1,80.0 157.8,73.8 158.8,74.5 159.5,75.9 160.5,76.6 161.2,79.0 162.2,78.3 163.3,79.0 164.3,79.3 165.3,78.6 166.4,81.4 167.4,80.0 168.4,77.9 169.5,78.6 170.5,82.1 171.6,79.3 172.6,77.9 173.6,80.7 174.7,82.4 175.7,80.7 176.7,79.7 177.8,82.1 178.8,82.1 179.8,80.7 180.9,79.0 181.9,76.6 182.9,75.9 183.8,73.8 184.0,68.1 184.9,69.9 186.2,71.6 187.4,71.6 188.7,72.4 190.0,71.6 191.3,69.0 192.6,65.6 193.5,62.5 194.3,60.4 195.2,59.1 196.1,57.8 196.9,56.1 197.6,54.8 198.2,56.1 198.8,56.9 199.3,53.5 199.7,48.3 200.3,27.7 200.5,37.8 201.4,40.6 202.4,40.1 203.1,42.4 203.7,49.8 204.2,50.7 204.9,44.2 205.6,45.2 206.2,48.8 207.0,52.5 207.9,54.4 209.0,55.0 210.0,58.0 211.0,64.0 211.5,67.0 212.3,65.0 213.0,62.0 214.0,56.0 214.8,50.0 215.5,42.0 216.3,38.7 217.1,37.8 217.5,33.7 218.0,36.0 218.5,47.0 219.1,54.4 219.8,57.5 220.8,61.2 221.7,64.9 222.6,67.6 223.5,66.7 224.4,65.8 225.4,67.6 226.3,69.5 227.2,71.3 228.1,70.4 229.0,72.2 230.0,74.1 230.9,73.1 231.8,73.6 232.7,75.0 233.6,77.7 234.6,79.6 235.5,76.8 236.4,75.4 237.3,78.2 238.2,76.8 239.1,80.5 239.9,76.3 240.7,74.8 241.2,76.3 241.9,78.9 242.7,75.6 243.5,79.4 244.3,81.0 245.0,80.0 245.8,78.4 246.6,75.0 247.1,74.8 247.9,78.9 248.7,81.0 249.2,79.4 250.0,75.3 250.5,74.8 251.2,78.9 252.0,80.5 252.8,78.9 253.6,74.3 254.1,73.8 254.6,76.3 255.2,78.4 255.9,78.9 256.4,74.3 256.9,71.7 257.3,71.2 257.7,76.3 258.2,78.4 259.0,75.0 259.8,75.8 260.5,77.4 261.3,76.9 262.3,76.4 263.1,79.0 263.6,80.0 264.4,77.1 265.2,76.6 266.0,77.7 266.7,77.1 267.5,77.7 268.3,78.2 269.1,79.2 269.8,79.7 270.6,81.5 271.4,82.1 272.2,81.5 273.0,79.5 273.7,77.4 274.5,76.6 275.3,79.0 275.8,81.5 276.6,79.5 277.4,77.1 278.1,77.4 278.9,79.0 279.7,80.0 280.5,80.8 281.2,81.0 282.0,80.8 282.8,81.5 283.6,81.0 284.4,81.5 285.1,82.1 286.2,82.0" fill="none" stroke="#111" stroke-width="0.85" stroke-linejoin="round"/>
<polyline points="34.0,164.5 38.7,164.3 39.5,162.0 40.8,160.8 42.0,161.8 43.0,163.8 43.5,164.1 45.2,163.5 46.7,164.1 48.4,163.1 50.1,164.0 51.6,163.4 53.3,164.4 54.6,163.5 56.0,164.0 57.4,163.2 58.8,163.8 60.3,163.4 61.8,164.4 63.4,163.3 65.0,164.2 66.2,163.1 67.9,164.3 69.6,163.3 71.0,163.9 72.6,163.5 73.8,164.0 75.1,163.4 76.3,163.8 77.6,163.5 79.1,163.9 80.8,163.2 82.1,164.0 83.5,163.4 84.7,164.3 86.5,163.3 88.0,163.9 89.3,163.4 90.7,164.3 92.0,163.5 93.7,164.1 95.0,163.3 96.2,164.1 98.0,163.1 99.6,164.0 100.0,163.4 101.7,162.2 103.3,163.6 104.7,162.0 106.5,164.1 108.1,162.0 109.8,163.5 111.3,162.4 112.5,163.3 113.9,162.5 115.5,164.2 117.0,161.9 118.8,164.2 121.0,164.5 122.3,165.2 123.2,163.8 123.8,161.4 124.7,161.1 125.5,160.5 126.4,159.7 127.3,158.8 128.2,160.0 129.0,156.5 129.9,155.6 130.5,156.8 131.4,157.6 132.3,158.8 132.8,159.4 133.7,158.2 134.6,156.8 135.8,155.6 136.9,155.3 138.1,155.3 139.3,154.4 140.1,155.0 141.0,156.2 141.9,156.8 142.8,157.3 143.6,156.8 144.5,157.6 145.1,157.6 145.7,157.0 146.3,156.8 146.8,157.3 147.4,161.4 148.0,158.2 148.6,157.6 149.2,157.9 149.8,158.2 150.3,161.1 150.9,157.6 151.8,155.6 152.7,153.8 153.5,152.9 154.4,153.2 154.6,156.8 155.5,158.8 156.4,158.5 157.3,158.8 158.1,159.7 158.7,161.4 159.3,159.1 160.2,157.3 161.0,157.9 161.6,159.7 162.2,161.4 163.1,162.0 164.3,161.4 165.4,162.0 166.6,162.3 167.8,162.0 168.9,162.6 170.1,163.2 171.3,163.5 172.4,162.6 173.6,161.7 174.5,162.0 175.3,162.9 176.2,163.8 177.1,164.0 178.3,164.3 179.4,164.0 180.3,162.9 180.9,161.1 181.5,159.7 182.0,158.5 182.6,156.8 183.2,154.4 183.8,153.8 184.7,154.1 185.5,153.8 186.4,153.5 187.0,153.0 189.0,151.0 191.0,146.0 192.0,145.0 193.0,146.8 194.8,141.1 195.0,138.0 196.3,134.8 197.6,134.8 198.6,130.9 199.5,121.8 200.4,112.8 200.8,110.8 201.7,117.9 202.8,121.8 203.8,127.6 204.7,125.0 205.3,127.0 206.6,130.9 207.9,134.8 209.2,139.9 210.5,145.1 211.8,148.3 213.1,143.8 214.4,130.9 215.4,121.8 216.3,117.9 217.3,118.6 218.3,124.4 219.6,134.8 220.9,143.8 222.2,146.4 223.5,147.0 224.5,149.0 225.3,150.3 226.9,152.5 228.5,154.6 229.6,155.2 230.7,154.1 232.3,157.3 233.4,160.0 234.5,159.0 235.5,157.9 236.6,159.0 238.3,159.5 239.9,159.0 241.5,160.6 243.1,161.7 244.8,162.8 246.4,162.2 247.5,163.3 248.5,164.9 249.6,163.8 251.3,161.7 252.9,160.0 254.5,157.9 256.1,159.0 257.8,159.5 259.4,159.5 261.0,160.0 262.6,159.5 264.3,160.0 265.9,159.5 267.5,161.7 269.1,162.8 270.8,161.7 272.4,162.2 274.0,160.0 275.6,159.5 277.3,161.7 278.3,164.4 280.0,164.9 281.6,164.9 283.2,164.4 284.8,163.3 286.2,161.9" fill="none" stroke="#111" stroke-width="0.85" stroke-linejoin="round"/>
<polyline points="34.0,247.3 35.0,246.8 37.2,246.4 39.4,247.0 42.3,246.1 44.8,247.0 47.6,246.4 50.3,247.2 53.1,246.1 55.5,246.8 58.3,245.8 61.1,247.2 63.5,246.3 66.5,247.1 68.6,246.4 70.8,247.2 73.6,246.4 76.4,247.2 79.1,246.3 81.6,246.8 83.6,246.0 86.3,247.0 89.2,246.3 92.1,247.1 94.3,246.4 96.6,246.8 99.2,246.4 101.6,246.8 104.5,246.3 107.0,247.0 109.9,246.3 110.0,246.0 115.0,247.0 116.6,246.4 118.3,245.1 119.9,246.4 121.5,248.0 123.1,247.5 124.8,245.3 126.4,243.2 128.0,242.1 129.6,240.5 131.3,238.3 132.9,239.9 134.5,241.0 136.1,238.8 137.8,237.2 139.4,236.7 141.0,237.8 142.6,238.8 144.3,239.4 145.9,240.5 147.5,241.5 149.1,241.5 150.8,238.8 152.4,236.7 154.0,237.8 155.6,239.9 157.3,241.5 158.9,240.5 160.5,239.4 162.1,241.0 163.8,243.7 165.4,244.3 167.0,244.3 168.6,244.8 170.3,244.3 171.9,245.3 173.5,244.3 175.1,245.9 176.8,247.5 178.4,247.5 180.0,246.4 181.2,243.8 183.1,239.9 185.1,236.0 187.0,234.5 188.9,234.1 190.9,232.8 192.2,229.6 193.5,225.7 194.8,221.2 196.1,217.3 197.3,213.4 198.6,210.2 199.9,207.6 200.5,201.5 201.3,193.4 203.0,199.2 205.3,207.2 207.6,214.1 209.9,221.0 212.2,226.6 213.4,218.7 214.5,205.0 215.5,197.8 216.8,200.3 218.6,209.5 220.3,218.7 222.0,223.3 223.7,226.8 225.0,229.0 227.0,233.0 229.0,236.0 231.0,238.0 233.0,239.5 235.0,242.0 237.0,240.5 239.0,239.5 241.0,243.0 243.0,244.5 245.0,246.0 247.0,247.0 249.0,245.5 251.0,243.0 253.0,241.0 255.0,240.5 257.0,241.0 260.0,242.0 263.0,243.0 265.0,241.5 267.0,244.5 269.0,245.0 271.0,243.0 273.0,242.0 275.0,242.5 277.0,246.5 279.0,247.5 281.0,247.5 283.0,247.0 285.0,246.0 286.2,244.5" fill="none" stroke="#111" stroke-width="0.85" stroke-linejoin="round"/>
<polyline points="22.3,330.0 35.0,329.9 38.2,329.5 40.8,329.9 43.6,329.6 47.2,329.8 50.4,329.5 53.6,329.8 56.9,329.5 60.0,329.5 63.1,329.0 65.8,329.9 68.8,328.8 72.1,330.0 75.1,328.8 78.1,329.7 81.3,328.9 84.3,329.7 87.9,328.8 91.3,330.0 94.0,328.8 97.6,329.9 100.1,329.1 103.1,329.5 105.7,329.1 108.9,329.9 110.0,329.2 114.0,329.8 118.0,329.4 121.0,329.0 125.0,329.6 127.0,326.0 129.0,323.0 131.0,321.0 135.0,320.0 138.5,319.0 141.0,318.5 144.0,320.5 147.0,322.5 150.0,320.5 152.5,319.5 156.0,320.5 160.0,322.0 163.0,323.0 166.0,325.0 169.0,326.0 171.0,326.0 174.0,327.0 177.0,329.0 179.4,330.3 181.4,325.3 183.2,320.5 185.0,318.1 187.4,315.1 189.3,312.7 191.0,308.5 192.0,306.0 193.6,305.2 195.8,298.0 197.9,285.8 199.4,280.1 200.5,276.0 202.2,278.6 204.4,280.8 206.3,283.6 208.0,290.1 209.4,297.3 210.9,302.8 212.3,294.4 213.7,285.8 215.5,278.6 216.6,276.0 218.0,284.4 219.5,294.4 220.9,300.9 222.4,305.9 224.5,309.5 226.7,313.1 228.8,316.7 230.0,317.5 232.0,320.0 234.0,320.5 236.0,321.0 238.0,322.0 240.0,325.0 242.0,326.0 243.0,327.5 247.0,328.0 250.0,325.0 254.0,322.0 258.0,323.0 262.0,324.0 266.0,325.0 270.0,325.5 274.0,327.0 278.0,328.5 281.0,329.5 284.0,328.5 286.2,327.0" fill="none" stroke="#111" stroke-width="0.85" stroke-linejoin="round"/>
<polyline points="330.6,72.5 331.8,67.8 332.9,77.2 334.1,71.3 335.2,66.7 336.4,69.0 337.6,72.5 338.8,66.7 339.9,64.9 341.1,69.0 342.2,67.8 343.4,77.2 344.6,70.2 345.8,66.7 346.9,80.7 348.1,72.5 349.2,66.7 350.4,67.3 351.6,74.3 352.8,72.5 353.9,79.5 355.1,70.8 356.2,77.2 357.4,70.2 358.6,73.7 359.8,70.8 360.9,74.8 362.1,70.2 363.2,72.5 364.4,71.3 365.6,76.0 366.8,78.3 367.9,73.7 369.1,77.8 370.2,71.3 371.4,74.8 372.6,69.0 373.8,72.5 374.3,63.2 375.5,76.0 376.7,71.3 377.8,75.4 379.0,69.0 380.2,64.3 381.3,72.5 382.5,66.7 383.7,78.3 384.8,67.8 386.0,73.7 387.2,70.2 388.3,76.0 389.5,72.5 390.7,77.2 391.8,66.7 393.0,72.5 394.2,69.0 395.3,78.3 396.5,63.2 397.7,76.0 398.8,71.3 400.0,72.6 401.5,75.2 403.0,78.2 404.1,74.1 405.2,66.2 405.8,62.1 406.6,69.2 407.5,78.2 408.6,75.2 409.7,73.7 410.8,74.1 411.8,77.1 412.7,67.0 413.8,66.2 415.0,67.3 416.1,68.8 417.2,70.7 418.3,75.6 419.6,78.2 420.6,75.2 421.7,71.1 422.8,66.2 423.6,62.5 424.3,68.5 425.4,73.0 426.6,71.1 427.7,70.0 428.8,68.5 429.9,70.3 431.0,67.7 431.8,71.1 432.5,64.0 433.3,80.1 434.1,73.0 435.2,67.0 436.4,74.1 437.5,64.7 438.2,68.5 439.4,70.7 440.5,71.8 441.6,71.1 442.7,73.7 443.5,76.0 444.2,69.6 445.0,69.2 446.1,72.6 446.8,76.0 448.0,71.8 449.1,70.0 449.8,67.3 450.6,76.0 451.7,71.8 452.6,69.2 453.3,73.0 454.3,76.0 455.1,78.2 455.8,73.7 456.9,71.8 458.1,73.7 458.8,76.0 459.6,78.2 460.3,73.0 461.3,69.2 462.0,60.0 462.5,25.0 463.0,45.0 463.3,77.4 463.7,82.7 464.4,75.2 465.5,70.0 466.5,73.0 467.5,74.8 468.6,70.7 469.4,74.1 470.1,78.2 470.9,70.3 472.0,72.2 473.1,73.7 474.2,68.5 475.3,67.7 476.5,72.2 477.6,80.4 478.3,73.0 479.5,70.0 480.6,65.5 481.3,69.2 482.5,67.7 483.6,76.0 484.3,73.0 485.3,69.2 486.2,66.6 487.3,73.0 488.4,77.4 489.2,71.5 490.3,70.0 491.4,71.8 492.6,71.8 493.7,71.1 494.8,71.5 495.9,73.7 497.0,74.1 498.2,68.5 499.3,79.7 500.4,70.7 502.0,73.0 503.1,73.7 504.2,70.7 505.4,66.2 506.5,67.7 507.6,71.1 508.7,71.5 509.8,74.1 511.0,73.0 512.1,70.3 513.2,70.0 514.3,74.1 515.5,71.5 516.6,71.8 517.7,73.7 518.6,75.6 519.6,71.1 520.7,68.5 521.8,70.0 522.9,72.6 524.1,74.1 525.2,70.3 526.3,68.5 527.4,70.7 528.5,73.7 529.7,73.3 530.8,71.1 531.9,69.2 532.5,66.2 533.9,71.5 535.4,77.8 536.1,73.0 536.9,69.2 537.6,70.0 538.7,71.8 539.9,71.1 541.0,72.6 542.5,75.2 543.6,73.0 544.7,70.7 545.8,70.0 547.0,73.7 547.7,69.6 548.8,71.5 550.0,71.1 551.1,74.1 552.2,71.5 553.3,72.2 554.4,73.0 555.6,74.8 556.7,70.7 557.8,73.0 558.6,70.0 559.7,71.5 560.8,68.5 561.5,67.7 562.3,70.7 563.4,72.2 564.5,74.1 565.4,73.0 566.5,75.2 567.6,73.0 568.7,74.1 569.9,73.7 571.0,71.1 571.7,70.3 572.8,72.6 574.0,73.7 575.1,74.1 576.2,71.5 577.0,69.2 577.7,70.0 578.8,71.5 579.6,79.3 580.3,73.0 581.3,68.5 582.2,71.1 583.3,71.8 584.4,68.1 585.6,70.7 586.7,71.5 587.8,73.7 588.9,71.1 590.0,71.8 591.2,71.1 592.3,71.8 593.4,71.5 594.4,72.0" fill="none" stroke="#111" stroke-width="0.85" stroke-linejoin="round"/>
<polyline points="331.2,164.6 332.8,164.6 334.5,154.6 336.2,164.6 338.3,164.6 340.2,155.8 342.1,164.6 342.0,164.6 344.2,156.3 346.4,164.6 345.3,164.6 346.5,160.0 347.7,164.6 350.8,164.6 353.2,157.5 355.6,164.6 358.7,164.6 359.5,163.7 360.3,164.6 362.6,164.6 363.4,164.2 364.2,164.6 369.4,164.6 370.2,164.2 371.0,164.6 374.8,164.6 376.5,156.3 378.2,164.6 379.1,164.6 379.9,162.6 380.7,164.6 380.8,164.6 383.3,150.1 385.8,164.6 394.9,164.6 396.3,154.6 397.7,164.6 406.0,164.6 407.3,146.0 408.6,164.6 413.0,164.6 414.3,153.1 416.0,155.0 419.5,160.0 420.5,164.6 422.8,164.6 424.0,152.4 426.0,156.0 428.0,159.0 428.8,164.6 428.8,164.6 429.6,160.8 430.4,164.6 431.8,164.6 432.7,160.2 433.6,164.6 436.6,164.6 437.6,158.1 438.6,164.6 439.3,164.6 440.0,161.5 440.7,164.6 444.0,164.6 445.0,157.7 446.0,164.6 449.2,164.6 450.0,163.0 450.8,164.6 461.2,164.6 462.2,113.6 462.8,113.6 463.8,164.6 472.9,164.6 474.5,154.1 476.1,164.6 477.8,164.6 479.6,153.5 481.4,164.6 483.6,164.6 485.2,158.6 486.8,164.6 487.5,164.6 490.0,162.8 492.5,164.6 491.0,164.6 493.5,162.8 496.0,164.6 502.8,164.6 504.5,155.8 506.2,164.6 505.0,164.6 506.2,159.7 507.4,164.6 510.5,164.6 511.9,160.9 513.3,164.6 513.9,164.6 514.7,162.6 515.5,164.6 517.5,164.6 519.3,156.3 521.1,164.6 522.7,164.6 524.4,159.7 526.1,164.6 528.5,164.6 529.8,158.2 531.1,164.6 531.1,164.6 531.8,161.5 532.5,164.6 533.2,164.6 534.0,161.8 534.8,164.6 537.4,164.6 538.2,163.6 539.0,164.6 545.8,164.6 546.6,163.6 547.4,164.6 552.8,164.6 553.8,160.6 554.8,164.6 556.8,164.6 558.0,160.0 559.2,164.6 558.9,164.6 559.5,162.4 560.1,164.6 567.4,164.6 568.2,163.6 569.0,164.6 573.2,164.6 574.2,161.2 575.2,164.6 578.0,164.6 579.0,160.6 580.0,164.6 580.9,164.6 582.0,158.2 583.1,164.6 584.2,164.6 585.0,161.2 585.8,164.6 586.1,164.6 586.8,161.8 587.5,164.6 590.4,164.6 591.6,157.0 592.8,164.6 594.0,164.6" fill="none" stroke="#111" stroke-width="0.85" stroke-linejoin="round"/>
<polyline points="330.6,247.2 336.0,247.2 337.1,244.8 338.2,247.2 341.8,247.2 343.5,235.0 344.5,233.0 345.5,231.3 347.4,247.2 353.0,247.2 356.1,238.4 358.5,247.2 376.0,247.2 378.5,237.3 381.0,247.2 380.8,247.2 384.0,215.1 387.5,247.2 395.0,247.2 397.5,230.1 400.0,247.2 407.5,247.2 408.7,238.0 409.8,247.2 413.5,247.2 417.1,223.8 420.5,247.2 422.5,247.2 425.3,228.2 428.0,240.0 430.0,247.2 430.5,247.2 433.4,241.6 436.0,247.2 436.2,247.2 438.9,236.4 444.0,247.2 460.5,247.2 462.7,201.2 463.4,201.5 466.0,247.2 473.0,247.2 475.0,233.5 477.0,247.2 478.0,247.2 480.3,227.3 483.0,247.2 484.5,247.2 486.0,240.8 487.5,247.2 490.0,247.2 491.3,243.7 492.6,247.2 502.0,247.2 505.0,235.3 507.5,247.2 509.5,247.2 510.5,243.5 511.5,247.2 517.0,247.2 518.9,232.1 521.5,247.2 521.7,247.2 524.0,238.0 527.0,247.2 527.3,247.2 529.5,233.7 532.0,247.2 552.0,247.2 555.0,244.0 557.1,239.8 560.0,247.2 577.0,247.2 579.1,236.4 581.0,247.2 588.0,247.2 590.1,231.5 592.0,231.8 592.3,247.2 594.4,247.2" fill="none" stroke="#111" stroke-width="0.85" stroke-linejoin="round"/>
<polyline points="330.6,330.3 343.4,330.3 347.5,323.8 350.9,330.3 379.9,330.3 385.8,301.7 390.2,330.3 396.3,330.3 396.5,328.2 397.3,328.2 397.5,330.3 415.1,330.3 418.7,313.1 423.5,330.3 440.5,320.8 442.8,330.3 458.9,330.3 462.5,287.8 466.6,330.3 471.0,330.3 473.2,322.2 476.4,330.3 482.1,330.3 484.8,326.7 487.1,330.3 500.5,330.3 506.7,324.9 516.5,330.3 524.0,325.5 528.0,323.2 530.0,330.3 550.1,330.3 554.8,322.8 556.8,330.3 575.2,330.3 576.8,323.2 579.3,330.3 584.9,330.3 587.7,322.8 591.3,330.3 594.4,330.3" fill="none" stroke="#111" stroke-width="0.85" stroke-linejoin="round"/>
<polyline points="459.5,330.3 462.3,288.5 465.8,330.3" fill="none" stroke="#9a9a9a" stroke-width="0.8" stroke-linejoin="round"/>
<polyline points="330.6,247.0 594.4,247.0" fill="none" stroke="#e07878" stroke-width="1.1" stroke-linejoin="round"/>
</svg></body></html>
